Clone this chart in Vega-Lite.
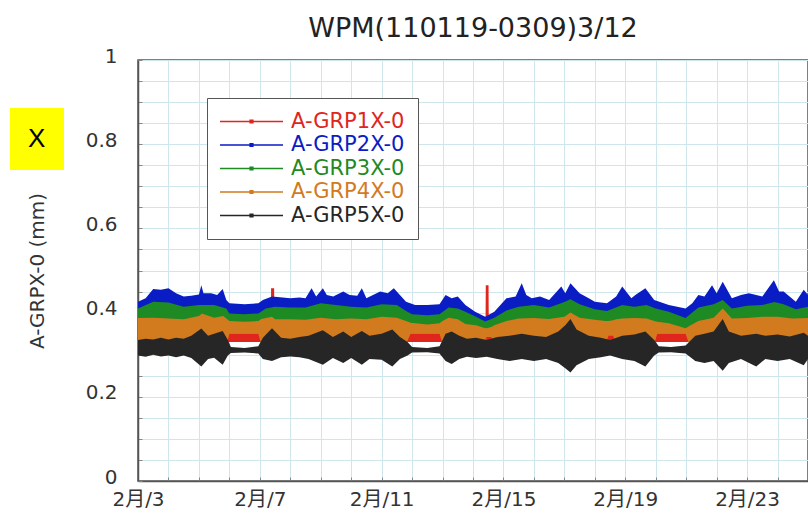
{
  "$schema": "https://vega.github.io/schema/vega-lite/v6.json",
  "width": 670,
  "height": 421,
  "autosize": {"type": "none"},
  "padding": {"left": 138, "top": 60, "right": 0, "bottom": 32},
  "background": "white",
  "title": {"text": "WPM(110119-0309)3/12", "font": "DejaVu Sans", "fontSize": 27, "fontWeight": "normal", "color": "#222", "offset": 3, "anchor": "middle"},
  "config": {
    "view": {"stroke": "#555", "strokeWidth": 1.5},
    "axis": {"labelFont": "DejaVu Sans, Noto Sans CJK JP", "labelFontSize": 20, "labelColor": "#333", "gridColor": "#cfe6ec", "gridWidth": 1, "gridOpacity": 1, "domainColor": "#555", "domainWidth": 1.5, "tickColor": "#888", "tickSize": -4, "labelOverlap": false, "labelFlush": false}
  },
  "layer": [
    {
      "data": {"values": [
        {"s":"A-GRP1X-0","t":3,"lo":0.33,"hi":0.35},
        {"s":"A-GRP1X-0","t":7.36,"lo":0.33,"hi":0.35},
        {"s":"A-GRP1X-0","t":7.37,"lo":0.33,"hi":0.458},
        {"s":"A-GRP1X-0","t":7.47,"lo":0.33,"hi":0.458},
        {"s":"A-GRP1X-0","t":7.48,"lo":0.33,"hi":0.35},
        {"s":"A-GRP1X-0","t":14.41,"lo":0.33,"hi":0.35},
        {"s":"A-GRP1X-0","t":14.42,"lo":0.33,"hi":0.465},
        {"s":"A-GRP1X-0","t":14.51,"lo":0.33,"hi":0.465},
        {"s":"A-GRP1X-0","t":14.52,"lo":0.33,"hi":0.35},
        {"s":"A-GRP1X-0","t":25,"lo":0.33,"hi":0.35},

        {"s":"A-GRP2X-0","t":3.0,"lo":0.37,"hi":0.426},
        {"s":"A-GRP2X-0","t":3.25,"lo":0.37,"hi":0.434},
        {"s":"A-GRP2X-0","t":3.5,"lo":0.37,"hi":0.456},
        {"s":"A-GRP2X-0","t":3.75,"lo":0.37,"hi":0.454},
        {"s":"A-GRP2X-0","t":4.0,"lo":0.37,"hi":0.458},
        {"s":"A-GRP2X-0","t":4.25,"lo":0.37,"hi":0.446},
        {"s":"A-GRP2X-0","t":4.5,"lo":0.37,"hi":0.438},
        {"s":"A-GRP2X-0","t":4.75,"lo":0.37,"hi":0.44},
        {"s":"A-GRP2X-0","t":5.0,"lo":0.37,"hi":0.443},
        {"s":"A-GRP2X-0","t":5.08,"lo":0.37,"hi":0.465},
        {"s":"A-GRP2X-0","t":5.15,"lo":0.37,"hi":0.446},
        {"s":"A-GRP2X-0","t":5.4,"lo":0.37,"hi":0.446},
        {"s":"A-GRP2X-0","t":5.6,"lo":0.37,"hi":0.442},
        {"s":"A-GRP2X-0","t":5.78,"lo":0.37,"hi":0.456},
        {"s":"A-GRP2X-0","t":5.9,"lo":0.37,"hi":0.43},
        {"s":"A-GRP2X-0","t":6.0,"lo":0.37,"hi":0.422},
        {"s":"A-GRP2X-0","t":6.5,"lo":0.37,"hi":0.42},
        {"s":"A-GRP2X-0","t":6.95,"lo":0.37,"hi":0.422},
        {"s":"A-GRP2X-0","t":7.1,"lo":0.37,"hi":0.43},
        {"s":"A-GRP2X-0","t":7.4,"lo":0.37,"hi":0.438},
        {"s":"A-GRP2X-0","t":7.75,"lo":0.37,"hi":0.436},
        {"s":"A-GRP2X-0","t":8.0,"lo":0.37,"hi":0.434},
        {"s":"A-GRP2X-0","t":8.3,"lo":0.37,"hi":0.436},
        {"s":"A-GRP2X-0","t":8.5,"lo":0.37,"hi":0.434},
        {"s":"A-GRP2X-0","t":8.7,"lo":0.37,"hi":0.458},
        {"s":"A-GRP2X-0","t":8.85,"lo":0.37,"hi":0.438},
        {"s":"A-GRP2X-0","t":9.07,"lo":0.37,"hi":0.458},
        {"s":"A-GRP2X-0","t":9.2,"lo":0.37,"hi":0.442},
        {"s":"A-GRP2X-0","t":9.41,"lo":0.37,"hi":0.438},
        {"s":"A-GRP2X-0","t":9.74,"lo":0.37,"hi":0.45},
        {"s":"A-GRP2X-0","t":9.95,"lo":0.37,"hi":0.442},
        {"s":"A-GRP2X-0","t":10.2,"lo":0.37,"hi":0.44},
        {"s":"A-GRP2X-0","t":10.35,"lo":0.37,"hi":0.458},
        {"s":"A-GRP2X-0","t":10.5,"lo":0.37,"hi":0.434},
        {"s":"A-GRP2X-0","t":10.95,"lo":0.37,"hi":0.45},
        {"s":"A-GRP2X-0","t":11.2,"lo":0.37,"hi":0.446},
        {"s":"A-GRP2X-0","t":11.4,"lo":0.37,"hi":0.458},
        {"s":"A-GRP2X-0","t":11.6,"lo":0.37,"hi":0.442},
        {"s":"A-GRP2X-0","t":11.8,"lo":0.37,"hi":0.426},
        {"s":"A-GRP2X-0","t":12.1,"lo":0.37,"hi":0.418},
        {"s":"A-GRP2X-0","t":12.5,"lo":0.37,"hi":0.418},
        {"s":"A-GRP2X-0","t":12.9,"lo":0.37,"hi":0.42},
        {"s":"A-GRP2X-0","t":13.1,"lo":0.37,"hi":0.442},
        {"s":"A-GRP2X-0","t":13.3,"lo":0.37,"hi":0.434},
        {"s":"A-GRP2X-0","t":13.5,"lo":0.37,"hi":0.438},
        {"s":"A-GRP2X-0","t":13.75,"lo":0.37,"hi":0.418},
        {"s":"A-GRP2X-0","t":14.07,"lo":0.37,"hi":0.402},
        {"s":"A-GRP2X-0","t":14.4,"lo":0.37,"hi":0.39},
        {"s":"A-GRP2X-0","t":14.7,"lo":0.37,"hi":0.402},
        {"s":"A-GRP2X-0","t":15.1,"lo":0.37,"hi":0.434},
        {"s":"A-GRP2X-0","t":15.4,"lo":0.37,"hi":0.438},
        {"s":"A-GRP2X-0","t":15.6,"lo":0.37,"hi":0.47},
        {"s":"A-GRP2X-0","t":15.75,"lo":0.37,"hi":0.442},
        {"s":"A-GRP2X-0","t":15.93,"lo":0.37,"hi":0.434},
        {"s":"A-GRP2X-0","t":16.2,"lo":0.37,"hi":0.438},
        {"s":"A-GRP2X-0","t":16.5,"lo":0.37,"hi":0.43},
        {"s":"A-GRP2X-0","t":16.9,"lo":0.37,"hi":0.462},
        {"s":"A-GRP2X-0","t":17.03,"lo":0.37,"hi":0.446},
        {"s":"A-GRP2X-0","t":17.2,"lo":0.37,"hi":0.47},
        {"s":"A-GRP2X-0","t":17.5,"lo":0.37,"hi":0.446},
        {"s":"A-GRP2X-0","t":17.8,"lo":0.37,"hi":0.434},
        {"s":"A-GRP2X-0","t":18.0,"lo":0.37,"hi":0.426},
        {"s":"A-GRP2X-0","t":18.4,"lo":0.37,"hi":0.422},
        {"s":"A-GRP2X-0","t":18.7,"lo":0.37,"hi":0.438},
        {"s":"A-GRP2X-0","t":18.9,"lo":0.37,"hi":0.462},
        {"s":"A-GRP2X-0","t":19.2,"lo":0.37,"hi":0.434},
        {"s":"A-GRP2X-0","t":19.33,"lo":0.37,"hi":0.442},
        {"s":"A-GRP2X-0","t":19.66,"lo":0.37,"hi":0.458},
        {"s":"A-GRP2X-0","t":19.95,"lo":0.37,"hi":0.43},
        {"s":"A-GRP2X-0","t":20.43,"lo":0.37,"hi":0.418},
        {"s":"A-GRP2X-0","t":20.98,"lo":0.37,"hi":0.41},
        {"s":"A-GRP2X-0","t":21.2,"lo":0.37,"hi":0.422},
        {"s":"A-GRP2X-0","t":21.4,"lo":0.37,"hi":0.442},
        {"s":"A-GRP2X-0","t":21.6,"lo":0.37,"hi":0.438},
        {"s":"A-GRP2X-0","t":21.85,"lo":0.37,"hi":0.465},
        {"s":"A-GRP2X-0","t":22.0,"lo":0.37,"hi":0.446},
        {"s":"A-GRP2X-0","t":22.2,"lo":0.37,"hi":0.473},
        {"s":"A-GRP2X-0","t":22.5,"lo":0.37,"hi":0.434},
        {"s":"A-GRP2X-0","t":22.8,"lo":0.37,"hi":0.442},
        {"s":"A-GRP2X-0","t":23.06,"lo":0.37,"hi":0.446},
        {"s":"A-GRP2X-0","t":23.5,"lo":0.37,"hi":0.438},
        {"s":"A-GRP2X-0","t":23.88,"lo":0.37,"hi":0.477},
        {"s":"A-GRP2X-0","t":24.05,"lo":0.37,"hi":0.45},
        {"s":"A-GRP2X-0","t":24.2,"lo":0.37,"hi":0.45},
        {"s":"A-GRP2X-0","t":24.6,"lo":0.37,"hi":0.426},
        {"s":"A-GRP2X-0","t":24.86,"lo":0.37,"hi":0.454},
        {"s":"A-GRP2X-0","t":25.0,"lo":0.37,"hi":0.442},

        {"s":"A-GRP3X-0","t":3.0,"lo":0.35,"hi":0.41},
        {"s":"A-GRP3X-0","t":3.5,"lo":0.35,"hi":0.426},
        {"s":"A-GRP3X-0","t":4.0,"lo":0.35,"hi":0.424},
        {"s":"A-GRP3X-0","t":4.5,"lo":0.35,"hi":0.414},
        {"s":"A-GRP3X-0","t":5.0,"lo":0.35,"hi":0.418},
        {"s":"A-GRP3X-0","t":5.5,"lo":0.35,"hi":0.418},
        {"s":"A-GRP3X-0","t":5.9,"lo":0.35,"hi":0.41},
        {"s":"A-GRP3X-0","t":6.0,"lo":0.35,"hi":0.398},
        {"s":"A-GRP3X-0","t":6.5,"lo":0.35,"hi":0.396},
        {"s":"A-GRP3X-0","t":6.95,"lo":0.35,"hi":0.398},
        {"s":"A-GRP3X-0","t":7.2,"lo":0.35,"hi":0.41},
        {"s":"A-GRP3X-0","t":7.5,"lo":0.35,"hi":0.414},
        {"s":"A-GRP3X-0","t":8.0,"lo":0.35,"hi":0.412},
        {"s":"A-GRP3X-0","t":8.5,"lo":0.35,"hi":0.412},
        {"s":"A-GRP3X-0","t":9.0,"lo":0.35,"hi":0.422},
        {"s":"A-GRP3X-0","t":9.5,"lo":0.35,"hi":0.418},
        {"s":"A-GRP3X-0","t":10.0,"lo":0.35,"hi":0.414},
        {"s":"A-GRP3X-0","t":10.5,"lo":0.35,"hi":0.412},
        {"s":"A-GRP3X-0","t":11.0,"lo":0.35,"hi":0.42},
        {"s":"A-GRP3X-0","t":11.5,"lo":0.35,"hi":0.418},
        {"s":"A-GRP3X-0","t":11.8,"lo":0.35,"hi":0.404},
        {"s":"A-GRP3X-0","t":12.0,"lo":0.35,"hi":0.396},
        {"s":"A-GRP3X-0","t":12.5,"lo":0.35,"hi":0.394},
        {"s":"A-GRP3X-0","t":12.9,"lo":0.35,"hi":0.396},
        {"s":"A-GRP3X-0","t":13.2,"lo":0.35,"hi":0.412},
        {"s":"A-GRP3X-0","t":13.5,"lo":0.35,"hi":0.41},
        {"s":"A-GRP3X-0","t":13.75,"lo":0.35,"hi":0.402},
        {"s":"A-GRP3X-0","t":14.1,"lo":0.35,"hi":0.39},
        {"s":"A-GRP3X-0","t":14.4,"lo":0.35,"hi":0.379},
        {"s":"A-GRP3X-0","t":14.7,"lo":0.35,"hi":0.388},
        {"s":"A-GRP3X-0","t":15.1,"lo":0.35,"hi":0.405},
        {"s":"A-GRP3X-0","t":15.5,"lo":0.35,"hi":0.414},
        {"s":"A-GRP3X-0","t":16.0,"lo":0.35,"hi":0.418},
        {"s":"A-GRP3X-0","t":16.5,"lo":0.35,"hi":0.412},
        {"s":"A-GRP3X-0","t":17.0,"lo":0.35,"hi":0.425},
        {"s":"A-GRP3X-0","t":17.2,"lo":0.35,"hi":0.432},
        {"s":"A-GRP3X-0","t":17.5,"lo":0.35,"hi":0.42},
        {"s":"A-GRP3X-0","t":18.0,"lo":0.35,"hi":0.408},
        {"s":"A-GRP3X-0","t":18.4,"lo":0.35,"hi":0.404},
        {"s":"A-GRP3X-0","t":18.9,"lo":0.35,"hi":0.418},
        {"s":"A-GRP3X-0","t":19.3,"lo":0.35,"hi":0.414},
        {"s":"A-GRP3X-0","t":19.7,"lo":0.35,"hi":0.418},
        {"s":"A-GRP3X-0","t":20.0,"lo":0.35,"hi":0.41},
        {"s":"A-GRP3X-0","t":20.43,"lo":0.35,"hi":0.402},
        {"s":"A-GRP3X-0","t":20.98,"lo":0.35,"hi":0.387},
        {"s":"A-GRP3X-0","t":21.4,"lo":0.35,"hi":0.412},
        {"s":"A-GRP3X-0","t":21.9,"lo":0.35,"hi":0.42},
        {"s":"A-GRP3X-0","t":22.2,"lo":0.35,"hi":0.43},
        {"s":"A-GRP3X-0","t":22.5,"lo":0.35,"hi":0.41},
        {"s":"A-GRP3X-0","t":23.0,"lo":0.35,"hi":0.416},
        {"s":"A-GRP3X-0","t":23.5,"lo":0.35,"hi":0.418},
        {"s":"A-GRP3X-0","t":23.9,"lo":0.35,"hi":0.425},
        {"s":"A-GRP3X-0","t":24.2,"lo":0.35,"hi":0.42},
        {"s":"A-GRP3X-0","t":24.6,"lo":0.35,"hi":0.408},
        {"s":"A-GRP3X-0","t":25.0,"lo":0.35,"hi":0.414},

        {"s":"A-GRP4X-0","t":3.0,"lo":0.325,"hi":0.387},
        {"s":"A-GRP4X-0","t":3.5,"lo":0.325,"hi":0.388},
        {"s":"A-GRP4X-0","t":4.0,"lo":0.325,"hi":0.386},
        {"s":"A-GRP4X-0","t":4.5,"lo":0.325,"hi":0.384},
        {"s":"A-GRP4X-0","t":5.0,"lo":0.325,"hi":0.392},
        {"s":"A-GRP4X-0","t":5.1,"lo":0.325,"hi":0.398},
        {"s":"A-GRP4X-0","t":5.5,"lo":0.325,"hi":0.388},
        {"s":"A-GRP4X-0","t":5.8,"lo":0.325,"hi":0.392},
        {"s":"A-GRP4X-0","t":5.92,"lo":0.325,"hi":0.385},
        {"s":"A-GRP4X-0","t":6.0,"lo":0.35,"hi":0.38},
        {"s":"A-GRP4X-0","t":6.5,"lo":0.35,"hi":0.378},
        {"s":"A-GRP4X-0","t":6.95,"lo":0.35,"hi":0.38},
        {"s":"A-GRP4X-0","t":7.05,"lo":0.325,"hi":0.385},
        {"s":"A-GRP4X-0","t":7.4,"lo":0.325,"hi":0.39},
        {"s":"A-GRP4X-0","t":7.5,"lo":0.325,"hi":0.384},
        {"s":"A-GRP4X-0","t":8.0,"lo":0.325,"hi":0.384},
        {"s":"A-GRP4X-0","t":8.5,"lo":0.325,"hi":0.383},
        {"s":"A-GRP4X-0","t":9.0,"lo":0.325,"hi":0.388},
        {"s":"A-GRP4X-0","t":9.5,"lo":0.325,"hi":0.384},
        {"s":"A-GRP4X-0","t":10.0,"lo":0.325,"hi":0.386},
        {"s":"A-GRP4X-0","t":10.5,"lo":0.325,"hi":0.384},
        {"s":"A-GRP4X-0","t":11.0,"lo":0.325,"hi":0.39},
        {"s":"A-GRP4X-0","t":11.5,"lo":0.325,"hi":0.388},
        {"s":"A-GRP4X-0","t":11.8,"lo":0.325,"hi":0.38},
        {"s":"A-GRP4X-0","t":11.95,"lo":0.35,"hi":0.376},
        {"s":"A-GRP4X-0","t":12.5,"lo":0.35,"hi":0.372},
        {"s":"A-GRP4X-0","t":12.9,"lo":0.35,"hi":0.375},
        {"s":"A-GRP4X-0","t":13.0,"lo":0.325,"hi":0.38},
        {"s":"A-GRP4X-0","t":13.2,"lo":0.325,"hi":0.388},
        {"s":"A-GRP4X-0","t":13.5,"lo":0.325,"hi":0.384},
        {"s":"A-GRP4X-0","t":13.75,"lo":0.325,"hi":0.373},
        {"s":"A-GRP4X-0","t":14.1,"lo":0.325,"hi":0.37},
        {"s":"A-GRP4X-0","t":14.35,"lo":0.325,"hi":0.364},
        {"s":"A-GRP4X-0","t":14.45,"lo":0.342,"hi":0.363},
        {"s":"A-GRP4X-0","t":14.6,"lo":0.342,"hi":0.366},
        {"s":"A-GRP4X-0","t":14.7,"lo":0.325,"hi":0.37},
        {"s":"A-GRP4X-0","t":15.1,"lo":0.325,"hi":0.38},
        {"s":"A-GRP4X-0","t":15.5,"lo":0.325,"hi":0.386},
        {"s":"A-GRP4X-0","t":16.0,"lo":0.325,"hi":0.387},
        {"s":"A-GRP4X-0","t":16.5,"lo":0.325,"hi":0.385},
        {"s":"A-GRP4X-0","t":17.0,"lo":0.325,"hi":0.39},
        {"s":"A-GRP4X-0","t":17.2,"lo":0.325,"hi":0.4},
        {"s":"A-GRP4X-0","t":17.5,"lo":0.325,"hi":0.388},
        {"s":"A-GRP4X-0","t":18.0,"lo":0.325,"hi":0.383},
        {"s":"A-GRP4X-0","t":18.35,"lo":0.325,"hi":0.38},
        {"s":"A-GRP4X-0","t":18.45,"lo":0.345,"hi":0.38},
        {"s":"A-GRP4X-0","t":18.6,"lo":0.345,"hi":0.382},
        {"s":"A-GRP4X-0","t":18.7,"lo":0.325,"hi":0.384},
        {"s":"A-GRP4X-0","t":18.9,"lo":0.325,"hi":0.386},
        {"s":"A-GRP4X-0","t":19.3,"lo":0.325,"hi":0.387},
        {"s":"A-GRP4X-0","t":19.7,"lo":0.325,"hi":0.386},
        {"s":"A-GRP4X-0","t":19.95,"lo":0.325,"hi":0.38},
        {"s":"A-GRP4X-0","t":20.05,"lo":0.35,"hi":0.378},
        {"s":"A-GRP4X-0","t":20.43,"lo":0.35,"hi":0.375},
        {"s":"A-GRP4X-0","t":20.98,"lo":0.35,"hi":0.363},
        {"s":"A-GRP4X-0","t":21.1,"lo":0.325,"hi":0.368},
        {"s":"A-GRP4X-0","t":21.4,"lo":0.325,"hi":0.38},
        {"s":"A-GRP4X-0","t":21.9,"lo":0.325,"hi":0.388},
        {"s":"A-GRP4X-0","t":22.2,"lo":0.325,"hi":0.41},
        {"s":"A-GRP4X-0","t":22.5,"lo":0.325,"hi":0.386},
        {"s":"A-GRP4X-0","t":23.0,"lo":0.325,"hi":0.387},
        {"s":"A-GRP4X-0","t":23.5,"lo":0.325,"hi":0.39},
        {"s":"A-GRP4X-0","t":24.0,"lo":0.325,"hi":0.39},
        {"s":"A-GRP4X-0","t":24.5,"lo":0.325,"hi":0.386},
        {"s":"A-GRP4X-0","t":25.0,"lo":0.325,"hi":0.387},

        {"s":"A-GRP5X-0","t":3.0,"lo":0.298,"hi":0.335},
        {"s":"A-GRP5X-0","t":3.25,"lo":0.295,"hi":0.338},
        {"s":"A-GRP5X-0","t":3.5,"lo":0.3,"hi":0.336},
        {"s":"A-GRP5X-0","t":3.75,"lo":0.296,"hi":0.34},
        {"s":"A-GRP5X-0","t":4.0,"lo":0.298,"hi":0.336},
        {"s":"A-GRP5X-0","t":4.25,"lo":0.294,"hi":0.34},
        {"s":"A-GRP5X-0","t":4.5,"lo":0.298,"hi":0.338},
        {"s":"A-GRP5X-0","t":4.75,"lo":0.292,"hi":0.345},
        {"s":"A-GRP5X-0","t":5.08,"lo":0.272,"hi":0.362},
        {"s":"A-GRP5X-0","t":5.3,"lo":0.29,"hi":0.345},
        {"s":"A-GRP5X-0","t":5.5,"lo":0.293,"hi":0.35},
        {"s":"A-GRP5X-0","t":5.78,"lo":0.276,"hi":0.356},
        {"s":"A-GRP5X-0","t":5.95,"lo":0.298,"hi":0.335},
        {"s":"A-GRP5X-0","t":6.05,"lo":0.304,"hi":0.318},
        {"s":"A-GRP5X-0","t":6.5,"lo":0.305,"hi":0.316},
        {"s":"A-GRP5X-0","t":6.95,"lo":0.303,"hi":0.32},
        {"s":"A-GRP5X-0","t":7.1,"lo":0.29,"hi":0.34},
        {"s":"A-GRP5X-0","t":7.4,"lo":0.285,"hi":0.363},
        {"s":"A-GRP5X-0","t":7.7,"lo":0.294,"hi":0.34},
        {"s":"A-GRP5X-0","t":8.0,"lo":0.296,"hi":0.338},
        {"s":"A-GRP5X-0","t":8.3,"lo":0.294,"hi":0.342},
        {"s":"A-GRP5X-0","t":8.6,"lo":0.29,"hi":0.345},
        {"s":"A-GRP5X-0","t":9.07,"lo":0.276,"hi":0.358},
        {"s":"A-GRP5X-0","t":9.4,"lo":0.292,"hi":0.342},
        {"s":"A-GRP5X-0","t":9.74,"lo":0.28,"hi":0.355},
        {"s":"A-GRP5X-0","t":10.0,"lo":0.292,"hi":0.342},
        {"s":"A-GRP5X-0","t":10.35,"lo":0.276,"hi":0.356},
        {"s":"A-GRP5X-0","t":10.6,"lo":0.29,"hi":0.345},
        {"s":"A-GRP5X-0","t":11.0,"lo":0.288,"hi":0.35},
        {"s":"A-GRP5X-0","t":11.35,"lo":0.272,"hi":0.36},
        {"s":"A-GRP5X-0","t":11.6,"lo":0.29,"hi":0.342},
        {"s":"A-GRP5X-0","t":11.85,"lo":0.298,"hi":0.33},
        {"s":"A-GRP5X-0","t":12.0,"lo":0.305,"hi":0.318},
        {"s":"A-GRP5X-0","t":12.5,"lo":0.306,"hi":0.316},
        {"s":"A-GRP5X-0","t":12.9,"lo":0.303,"hi":0.32},
        {"s":"A-GRP5X-0","t":13.1,"lo":0.285,"hi":0.35},
        {"s":"A-GRP5X-0","t":13.3,"lo":0.278,"hi":0.355},
        {"s":"A-GRP5X-0","t":13.55,"lo":0.29,"hi":0.345},
        {"s":"A-GRP5X-0","t":13.8,"lo":0.295,"hi":0.338},
        {"s":"A-GRP5X-0","t":14.1,"lo":0.292,"hi":0.34},
        {"s":"A-GRP5X-0","t":14.45,"lo":0.295,"hi":0.335},
        {"s":"A-GRP5X-0","t":14.8,"lo":0.29,"hi":0.342},
        {"s":"A-GRP5X-0","t":15.2,"lo":0.285,"hi":0.345},
        {"s":"A-GRP5X-0","t":15.6,"lo":0.29,"hi":0.35},
        {"s":"A-GRP5X-0","t":16.0,"lo":0.285,"hi":0.345},
        {"s":"A-GRP5X-0","t":16.4,"lo":0.29,"hi":0.342},
        {"s":"A-GRP5X-0","t":16.8,"lo":0.28,"hi":0.355},
        {"s":"A-GRP5X-0","t":17.03,"lo":0.268,"hi":0.37},
        {"s":"A-GRP5X-0","t":17.2,"lo":0.258,"hi":0.385},
        {"s":"A-GRP5X-0","t":17.4,"lo":0.275,"hi":0.36},
        {"s":"A-GRP5X-0","t":17.8,"lo":0.29,"hi":0.345},
        {"s":"A-GRP5X-0","t":18.2,"lo":0.294,"hi":0.34},
        {"s":"A-GRP5X-0","t":18.5,"lo":0.298,"hi":0.335},
        {"s":"A-GRP5X-0","t":18.9,"lo":0.29,"hi":0.345},
        {"s":"A-GRP5X-0","t":19.3,"lo":0.285,"hi":0.348},
        {"s":"A-GRP5X-0","t":19.66,"lo":0.272,"hi":0.355},
        {"s":"A-GRP5X-0","t":19.95,"lo":0.298,"hi":0.335},
        {"s":"A-GRP5X-0","t":20.1,"lo":0.305,"hi":0.32},
        {"s":"A-GRP5X-0","t":20.5,"lo":0.306,"hi":0.318},
        {"s":"A-GRP5X-0","t":20.98,"lo":0.303,"hi":0.322},
        {"s":"A-GRP5X-0","t":21.3,"lo":0.285,"hi":0.345},
        {"s":"A-GRP5X-0","t":21.6,"lo":0.28,"hi":0.35},
        {"s":"A-GRP5X-0","t":21.9,"lo":0.285,"hi":0.355},
        {"s":"A-GRP5X-0","t":22.2,"lo":0.262,"hi":0.385},
        {"s":"A-GRP5X-0","t":22.4,"lo":0.28,"hi":0.355},
        {"s":"A-GRP5X-0","t":22.8,"lo":0.29,"hi":0.345},
        {"s":"A-GRP5X-0","t":23.3,"lo":0.272,"hi":0.35},
        {"s":"A-GRP5X-0","t":23.6,"lo":0.29,"hi":0.345},
        {"s":"A-GRP5X-0","t":24.0,"lo":0.285,"hi":0.348},
        {"s":"A-GRP5X-0","t":24.4,"lo":0.29,"hi":0.343},
        {"s":"A-GRP5X-0","t":24.86,"lo":0.275,"hi":0.352},
        {"s":"A-GRP5X-0","t":25.0,"lo":0.29,"hi":0.345}
      ]},
      "mark": {"type": "area", "opacity": 1, "clip": true},
      "encoding": {
        "x": {"field": "t", "type": "quantitative", "scale": {"domain": [3, 25], "nice": false, "zero": false},
          "axis": {"title": null, "values": [3,4,5,6,7,8,9,10,11,12,13,14,15,16,17,18,19,20,21,22,23,24,25],
            "labelExpr": "(datum.value - 3) % 4 == 0 ? '2月/' + datum.value : ''", "labelPadding": 12, "grid": true}},
        "y": {"field": "lo", "type": "quantitative", "scale": {"domain": [0, 1], "nice": false},
          "axis": {"title": "A-GRPX-0 (mm)", "titleFont": "DejaVu Sans", "titleFontSize": 20, "titleFontWeight": "normal", "titleColor": "#333", "titlePadding": 38,
            "values": [0,0.05,0.1,0.15,0.2,0.25,0.3,0.35,0.4,0.45,0.5,0.55,0.6,0.65,0.7,0.75,0.8,0.85,0.9,0.95,1],
            "labelExpr": "round(datum.value*20) % 4 == 0 ? format(datum.value, '~g') : ''", "labelPadding": 25, "labelOffset": -4, "grid": true}},
        "y2": {"field": "hi"},
        "color": {"field": "s", "type": "nominal",
          "scale": {"domain": ["A-GRP1X-0","A-GRP2X-0","A-GRP3X-0","A-GRP4X-0","A-GRP5X-0"], "range": ["#e0261c","#0a1cc4","#1e8a24","#d27a1e","#262626"]},
          "legend": {"title": null, "orient": "none", "legendX": 69, "legendY": 38, "fillColor": "white", "strokeColor": "#555", "padding": 13,
            "symbolType": "M-1,-0.07H5V0.07H-1ZM1.8,-0.2H2.2V0.2H1.8Z", "symbolSize": 441, "symbolStrokeWidth": 0, "rowPadding": 1.5,
            "labelFont": "DejaVu Sans", "labelFontSize": 21, "labelOffset": 50,
            "labelColor": {"expr": "scale('color', datum.value)"},
            "encode": {"legend": {"strokeWidth": {"value": 2}}}}}
      }
    },
    {
      "data": {"values": [{"note": "X"}]},
      "mark": {"type": "point", "opacity": 0},
      "encoding": {
        "shape": {"field": "note", "type": "nominal",
          "legend": {"title": null, "orient": "none", "legendX": -128, "legendY": 48, "fillColor": "#ffff00", "padding": 18,
            "symbolSize": 0, "symbolOpacity": 0, "labelOffset": -26, "labelFont": "Liberation Sans", "labelFontSize": 26, "labelColor": "black"}}
      }
    }
  ]
}
